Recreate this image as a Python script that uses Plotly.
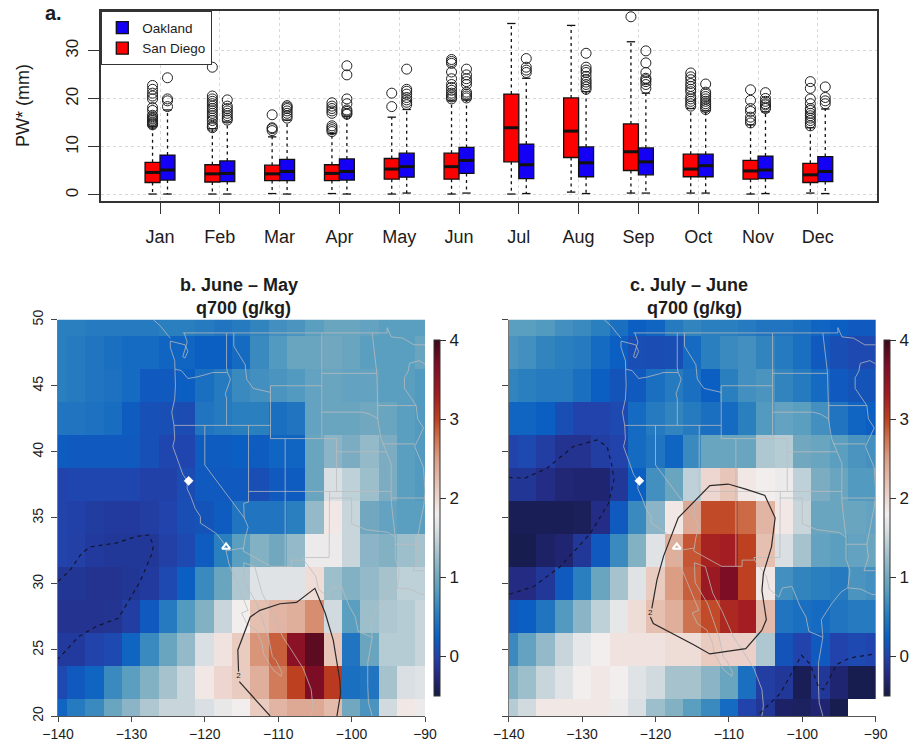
import plotly.graph_objects as go

W, H = 919, 742
def PX(px): return px / W
def PY(py): return 1 - py / H

months = ["Jan","Feb","Mar","Apr","May","Jun","Jul","Aug","Sep","Oct","Nov","Dec"]
month_pos = list(range(1, 13))

sd_q1  = [2.6,2.7,3.0,3.0,3.3,3.3,6.9,7.8,5.1,3.8,3.3,2.6]
sd_med = [4.7,4.4,4.4,4.5,5.4,5.9,14.0,13.3,9.0,5.4,5.0,4.2]
sd_q3  = [6.8,6.3,6.2,6.3,7.6,8.7,21.0,20.2,14.8,8.5,7.2,6.6]
sd_low = [0.2,0.2,0.3,0.3,0.2,0.2,0.2,0.6,0.4,0.4,0.2,0.4]
sd_up  = [14.3,13.8,12.1,12.8,16.2,19.6,35.7,35.3,31.9,18.0,14.6,14.0]
sd_out = [
 [14.6,14.8,15,15.2,15.5,15.8,16,16.3,16.6,17.6,18.2,20,20.6,21.2,22,22.8],
 [14,14.3,14.8,15.5,16,16.5,17,17.5,18,18.5,19,19.5,20,20.6,26.6],
 [13.4,13.8,14,16.7],
 [13.2,13.6,14,14.4,17,17.5,18,18.5,19.2],
 [18.4,21.2],
 [20,20.4,20.8,21.2,21.8,22.4,23,24.2,25.6,27.4,27.8,28.2],
 [],
 [],
 [37.1],
 [18.5,19,19.5,20,20.5,21.5,22,22.6,23.2,24,24.6,25.4],
 [15,15.6,16.2,17.4,18,19.7,21.9],
 [14.4,15,15.5,16,16.5,17,17.6,18,19,20,22.2,23.6],
]
ok_q1  = [3.1,2.8,3.0,3.1,3.7,4.5,3.4,3.8,4.2,3.8,3.4,2.8]
ok_med = [5.2,4.5,4.9,4.9,5.9,7.2,6.3,6.7,6.9,6.1,5.2,4.9]
ok_q3  = [8.3,7.1,7.4,7.5,8.7,9.9,10.6,10.0,9.8,8.5,8.1,8.0]
ok_low = [0.2,0.2,0.2,0.2,0.4,0.4,0.3,0.3,0.4,0.4,0.3,0.3]
ok_up  = [17.7,15.2,15.6,16.4,17.8,19.8,24.3,21.5,21.2,17.5,17.3,17.9]
ok_out = [
 [18.4,19.6,20,24.4],
 [15.6,16,16.5,17,17.5,18,18.5,19.8],
 [16,16.5,17,17.5,18,18.3,18.6],
 [16.8,17,17.4,17.7,19,20,25,26.9],
 [18.8,19.3,19.8,20.3,21,21.6,22,26.2],
 [20.2,20.6,21,21.4,23,23.6,24.2,25,26.2],
 [25.5,26,26.6,28.4],
 [22,22.5,23,23.5,24,24.7,25.5,26,26.6,29.5],
 [22.2,23,23.6,24,24.3,25.5,27.5,30],
 [17.8,18.2,18.6,19,19.5,20,20.5,21,21.4,23.1],
 [18,18.3,18.75,19,19.5,20.1,21.3],
 [19,19.6,20.3,22.5],
]

lons = [-140 + 2.5*i for i in range(21)]
lats = [20 + 2.5*i for i in range(13)]

# rows from lat 20 upward, columns from -140 eastward
q_june_may = [
 [.30,.50,.65,.95,1.15,1.35,1.5,1.5,1.6,1.72,1.8,2.1,2.3,2.4,2.4,2.25,1.0,.75,1.55,1.85,1.75],
 [.05,.20,.30,.65,.85,1.1,1.3,1.5,1.85,2.0,2.1,2.35,2.7,3.0,3.7,3.05,.40,.45,1.3,1.6,1.65],
 [-.08,-.08,.0,.05,.3,.65,.95,1.2,1.6,1.9,2.1,2.55,2.85,3.55,3.85,2.15,.45,.95,1.4,1.4,1.5],
 [-.15,-.15,-.15,-.14,-.05,.2,.5,.8,1.1,1.5,1.8,2.2,2.3,2.35,2.6,1.55,.85,1.25,1.35,1.4,1.5],
 [-.12,-.12,-.15,-.15,-.12,-.08,.05,.25,.65,.95,1.35,1.65,1.65,1.65,1.95,1.25,1.1,1.2,1.3,1.45,1.45],
 [.0,-.03,-.08,-.1,-.1,-.1,-.03,.05,.22,.55,.85,1.1,1.0,1.2,1.75,1.75,1.5,1.15,1.1,1.25,1.3],
 [.0,-.02,-.06,-.08,-.08,-.05,.0,.1,.15,.22,.45,.45,.45,.55,1.2,1.85,1.5,1.0,.9,.85,.85],
 [.0,.03,.03,.03,.03,-.02,-.02,.08,.2,.2,.2,.1,.2,.22,.95,1.6,1.45,1.25,1.05,.85,.8],
 [.22,.2,.2,.2,.2,.12,.03,.02,.22,.22,.25,.22,.3,.3,.95,1.15,1.05,1.2,1.05,.85,.8],
 [.45,.45,.42,.38,.22,.12,.1,.07,.45,.5,.55,.55,.4,.45,.9,.95,.95,1.0,.95,.85,.8],
 [.55,.5,.45,.42,.35,.2,.2,.25,.4,.5,.65,.7,.75,.8,.9,.95,.9,.9,.85,.85,.8],
 [.55,.5,.45,.4,.35,.35,.3,.3,.25,.25,.35,.65,.8,.95,.95,1.0,.95,.85,.85,.85,.95],
 [.55,.55,.5,.5,.5,.5,.55,.55,.5,.45,.5,.6,.7,.75,.85,.95,.95,.9,.85,.85,.85],
]
q_july_june = [
 [1.4,1.55,1.85,1.85,1.85,1.85,1.75,1.6,1.25,1.1,.85,.65,.35,.0,-.12,-.35,-.38,-.3,-.45,None,None],
 [1.1,1.25,1.5,1.65,1.8,1.85,1.8,1.65,1.55,1.3,1.3,1.15,.95,.4,-.05,-.1,-.42,-.1,-.3,-.45,-.45],
 [.65,.9,1.2,1.5,1.7,1.8,1.9,1.9,1.9,1.95,1.95,2.1,2.05,2.05,1.35,.15,.0,.2,.0,.05,.02],
 [.2,.25,.45,.8,1.15,1.45,1.7,1.95,2.2,2.35,2.75,2.95,3.2,3.3,2.25,.45,.4,.35,.45,.5,.5],
 [-.22,-.22,-.1,.2,.55,.95,1.3,1.65,2.1,2.5,2.85,3.4,3.7,3.0,1.85,.7,.6,.55,.5,.75,.7],
 [-.45,-.45,-.35,-.3,-.1,.2,.65,1.1,1.65,2.35,2.9,3.25,3.3,3.0,2.2,1.6,1.3,.9,.85,.9,.95],
 [-.42,-.42,-.42,-.42,-.4,-.2,.2,.65,1.15,1.85,2.4,2.95,2.95,2.8,2.3,1.85,1.5,.95,.95,.95,.9],
 [-.12,-.12,-.2,-.28,-.3,-.3,-.1,.25,.7,.95,1.45,2.0,2.15,1.85,1.8,1.75,1.45,1.05,.95,.8,.8],
 [.0,.05,-.05,-.15,-.15,-.05,.0,.35,.45,.3,.65,.95,.95,.95,1.35,1.4,1.0,.95,.85,.75,.7],
 [.3,.3,.25,.1,.0,.0,.05,.35,.5,.6,.5,.4,.35,.55,.8,.9,.85,.7,.45,.3,.25],
 [.6,.55,.5,.5,.4,.25,.15,.2,.4,.5,.4,.25,.55,.7,.75,.6,.5,.35,.2,.15,.15],
 [.75,.7,.6,.55,.5,.35,.25,.1,.08,.1,.35,.55,.65,.7,.6,.5,.4,.2,.1,.05,.05],
 [.85,.85,.8,.7,.65,.55,.4,.25,.3,.5,.6,.55,.55,.5,.45,.45,.4,.3,.25,.2,.2],
]

zmin, zmax = -0.5, 4.0
cstops = [(-.5,"#151a45"),(-.25,"#23287c"),(0,"#2243ac"),(.25,"#0b5fc2"),(.55,"#2a7fbf"),
          (.85,"#5b9fc0"),(1.0,"#72a8bf"),(1.3,"#a5c2cd"),(1.6,"#d9dfe2"),(1.8,"#f2eeee"),
          (2.0,"#ecd6cf"),(2.5,"#db9e85"),(2.8,"#cc6a45"),(3.0,"#bd4020"),(3.3,"#a31d22"),
          (3.7,"#7d0c25"),(4.0,"#3a0a1a")]
colorscale = [[(v-zmin)/(zmax-zmin), c] for v, c in cstops]

# geographic outlines, lon/lat
coast = [
 [(-127,50),(-126,49.5),(-125.3,49),(-124.7,48.6)],
 [(-124.7,48.38),(-124.7,47.9),(-124.1,46.9),(-124.06,46.2),(-124,45),(-124.1,44),(-124.5,43),(-124.2,42),(-124.1,41),
  (-124.35,40.4),(-123.8,39.5),(-123,38.3),(-122.4,37.8),(-122.4,37.2),(-121.9,36.6),(-121.3,35.7),(-120.6,35.1),
  (-120.6,34.6),(-119.2,34.1),(-118.4,33.8),(-117.3,33),(-117.1,32.5),(-116.7,31.5),(-115.8,30.3),(-114.7,28.9),
  (-114.1,28),(-115,27.8),(-114.3,27),(-113,26.5),(-112.2,25.5),(-112,24.7),(-110.7,23.5),(-109.6,23),(-109.5,23.3),
  (-110.3,24.2),(-110.8,24.5),(-111.3,25.9),(-112.2,27.4),(-112.9,28.5),(-114.6,30.1),(-114.7,31.6),(-113.2,31.3),
  (-112.2,29.3),(-110.9,27.9),(-109.4,26),(-108.2,25),(-106.6,23.6),(-105.5,22),(-105.3,20.8),(-105.5,20)],
 [(-97.2,20),(-97.7,21),(-97.8,22.3),(-97.8,24),(-97.2,25.96),(-97.4,27.3),(-96,28.5),(-94.7,29.4),(-93.8,29.7),(-92,29.6),(-90.5,29.2),(-90,29.2)],
 [(-124.7,48.38),(-123.2,48.15),(-122.7,48.1),(-122.3,47.6),(-122.7,47.1),(-123,47.2),(-122.6,47.9),(-122.4,48.3),(-122.8,49)],
 [(-92.1,46.7),(-90.8,46.9),(-90,46.65)],
 [(-97.2,49),(-95.15,49),(-95.15,49.4),(-94.6,48.7),(-93,48.6),(-91.5,48.1),(-90,48.1)],
 [(-123,49),(-97.2,49)],
]
states = [
 [(-117.1,32.5),(-114.72,32.72),(-114.8,32.5),(-111,31.33),(-108.2,31.33),(-108.2,31.8),(-106.5,31.8),(-104.9,30.6),
  (-104.5,29.6),(-103.2,29),(-102.7,29.7),(-101.4,29.8),(-100.3,28.3),(-99.5,27.5),(-99.1,26.4),(-97.2,25.96)],
 [(-124.06,46.25),(-123.2,46.15),(-122.3,45.55),(-121.2,45.65),(-119.3,45.93),(-118.98,46),(-116.92,46)],
 [(-117.03,49),(-117.04,46.4),(-116.92,46),(-116.5,45.5),(-117.2,44.4),(-117.03,44),(-117.03,42)],
 [(-124.2,42),(-111.05,42)],
 [(-120,42),(-120,39),(-114.63,35),(-114.1,34.3),(-114.5,33.5),(-114.72,32.72)],
 [(-114.04,42),(-114.04,37),(-114.05,36.2),(-114.7,36.1),(-114.63,35)],
 [(-114.04,37),(-94.62,37)],
 [(-111.05,45),(-111.05,41),(-109.05,41),(-109.05,31.33)],
 [(-109.05,41),(-102.05,41),(-102.05,37)],
 [(-111.05,45),(-104.05,45)],
 [(-104.05,41),(-104.05,49)],
 [(-116.05,49),(-116.05,48),(-114.5,46.6),(-114.3,45.5),(-113.4,44.8),(-111.05,44.5)],
 [(-103,37),(-103.06,32),(-106.6,32),(-106.5,31.8)],
 [(-103,36.5),(-100,36.5),(-100,34.56),(-98,34.1),(-95,33.9),(-94.05,33.55),(-94.05,31.9),(-93.5,31),(-93.8,29.7)],
 [(-104.05,45.94),(-96.56,45.94)],
 [(-97.2,49),(-96.56,45.94),(-96.45,43.5),(-96.45,42.5),(-96,41),(-95.3,40),(-94.6,39.1),(-94.62,36.5),(-94.45,35.4),(-94.05,33.55)],
 [(-104.05,43),(-98.5,43),(-97.5,42.85),(-96.45,42.5)],
 [(-102.05,40),(-95.3,40)],
 [(-95.8,40.6),(-91.4,40.6)],
 [(-96.45,43.5),(-91.2,43.5)],
 [(-92.1,46.7),(-92.3,46.1),(-92.8,45.6),(-92.8,44.8),(-91.2,43.5),(-91,42.5),(-90.2,41.8),(-91.1,40.7),(-91.4,40.4),(-90.2,38.8),(-90,37),(-90.15,36),(-90.6,34.7),(-91.2,33),(-91,32),(-91.6,31)],
 [(-94.62,36.5),(-90.15,36.5)],
 [(-94.05,33),(-91.2,33)],
 [(-91.6,31),(-90,31)],
]

b_c2_lon = [-111.1,-115.3,None,-115.4,-115.5,-113.8,-112.5,-109.75,-107.5,-105,-103.6,-102.5,-101.6,-101.5,-102]
b_c2_lat = [20,22.6,None,23.36,25,27.5,28,28.5,28.6,29.66,27.8,25.75,22.7,21.7,20]
b_c0_lon = [-140,-138.4,-136.8,-135.6,-132,-129.3,-127.6,-127,-127.2,-128.8,-130.6,-131.8,-134.7,-137.2,-140]
b_c0_lat = [30.2,31,32.3,32.8,33.1,33.6,33.7,32.9,32.3,30.2,28.5,27.4,26.8,26,24.3]
c_c2_lon = [-120.7,-120.3,-114.8,-112.6,-107.7,-105.5,-104.9,-105.5,-105.3,-104.2,-103.7,-105.1,-107.6,-110.1,-112.6,-116.9,-118.9,-119.8,-120.5]
c_c2_lat = [27.5,27,25.4,24.7,25.1,26.5,27.3,29.5,30.8,32.8,35,36.7,37.16,37.56,37.44,35,32.1,30.3,28.15]
c_c0a_lon = [-140,-137.8,-134.8,-131.2,-128,-126.6,-126,-125.65,-126.4,-128.9,-133,-136.6,-140]
c_c0a_lat = [38.07,38,38.75,40.4,40.9,40.4,39.1,37.9,36.1,33.8,31.3,29.8,29.2]
c_c0b_lon = [-105.8,-103,-100.1,-98.9,-97.8,-97.1,-95.3,-93.5,-90.1]
c_c0b_lat = [20.2,21.7,24.6,23.9,22.2,22,23.9,24.4,24.7]

oakland = (-122.2, 37.8)
san_diego = (-117.1, 32.8)
FONT = "Liberation Sans"
INK = "#1c1c1c"

def flatten(segs):
    xs, ys = [], []
    for s in segs:
        xs += [p[0] for p in s] + [None]
        ys += [p[1] for p in s] + [None]
    return xs, ys

fig = go.Figure()

def add_boxes(name, color, off, q1, med, q3, low, up, out):
    pos = [m + off for m in month_pos]
    wx, wy, cx, cy, mx, my, ox, oy = [], [], [], [], [], [], [], []
    for i, p in enumerate(pos):
        wx += [p, p, None, p, p, None]
        wy += [q3[i], up[i], None, q1[i], low[i], None]
        for v in (low[i], up[i]):
            cx += [p-0.07, p+0.07, None]
            cy += [v, v, None]
        mx += [p-0.125, p+0.125, None]
        my += [med[i], med[i], None]
        ox += [p]*len(out[i])
        oy += out[i]
    fig.add_trace(go.Scatter(x=wx, y=wy, mode="lines", showlegend=False, hoverinfo="skip",
                             line=dict(color="#111", width=1.3, dash="3px,3.5px")))
    fig.add_trace(go.Scatter(x=cx, y=cy, mode="lines", showlegend=False, hoverinfo="skip",
                             line=dict(color="#111", width=1.3)))
    fig.add_trace(go.Scatter(x=ox, y=oy, mode="markers", showlegend=False,
                             marker=dict(symbol="circle-open", size=10, color="#222", line=dict(width=1, color="#222"))))
    fig.add_trace(go.Box(name=name, x=pos, q1=q1, median=med, q3=q3, width=0.25, boxpoints=False,
                         fillcolor=color, whiskerwidth=0,
                         line=dict(color="#111", width=1.3), marker=dict(color=color)))
    fig.add_trace(go.Scatter(x=mx, y=my, mode="lines", showlegend=False, hoverinfo="skip",
                             line=dict(color="#111", width=3)))

add_boxes("San Diego", "#ff0000", -0.125, sd_q1, sd_med, sd_q3, sd_low, sd_up, sd_out)
add_boxes("Oakland", "#1400f5", 0.125, ok_q1, ok_med, ok_q3, ok_low, ok_up, ok_out)

def cbar(x_px):
    return dict(x=PX(x_px), xanchor="left", xpad=0, y=PY(696), yanchor="bottom", ypad=0,
                len=(696-340)/H, lenmode="fraction", thickness=5.5, outlinewidth=1, outlinecolor="#333",
                tickmode="array", tickvals=[0,1,2,3,4], ticks="outside", ticklen=6, tickwidth=1, tickcolor="#333",
                tickfont=dict(family=FONT, size=17, color=INK))

def add_map(ax, z, cb_x, contours_solid, contours_dash, label_pos):
    xa, ya = "x"+ax, "y"+ax
    fig.add_trace(go.Heatmap(x=lons, y=lats, z=z, xaxis=xa, yaxis=ya, zmin=zmin, zmax=zmax,
                             colorscale=colorscale, colorbar=cbar(cb_x), xgap=0, ygap=0, zsmooth=False))
    lx, ly = flatten(coast + states)
    fig.add_trace(go.Scatter(x=lx, y=ly, xaxis=xa, yaxis=ya, mode="lines", showlegend=False, hoverinfo="skip",
                             line=dict(color="rgba(188,188,188,0.75)", width=1)))
    for cx, cy in contours_solid:
        fig.add_trace(go.Scatter(x=cx, y=cy, xaxis=xa, yaxis=ya, mode="lines", showlegend=False, hoverinfo="skip",
                                 line=dict(color="#2e2a2a", width=1.2)))
    for cx, cy in contours_dash:
        fig.add_trace(go.Scatter(x=cx, y=cy, xaxis=xa, yaxis=ya, mode="lines", showlegend=False, hoverinfo="skip",
                                 line=dict(color="#15152e", width=1.2, dash="4px,4px")))
    fig.add_trace(go.Scatter(x=[label_pos[0]], y=[label_pos[1]], xaxis=xa, yaxis=ya, mode="text", text=["2"],
                             showlegend=False, hoverinfo="skip", textposition="middle center",
                             textfont=dict(family=FONT, size=8, color="#222")))
    fig.add_trace(go.Scatter(x=[oakland[0]], y=[oakland[1]], xaxis=xa, yaxis=ya, mode="markers", showlegend=False,
                             marker=dict(symbol="diamond", size=7, color="white", line=dict(color="white", width=0.5))))
    fig.add_trace(go.Scatter(x=[san_diego[0]], y=[san_diego[1]], xaxis=xa, yaxis=ya, mode="markers", showlegend=False,
                             marker=dict(symbol="triangle-up-open", size=7, color="white", line=dict(color="white", width=2))))

add_map("2", q_june_may, 434, [(b_c2_lon, b_c2_lat)], [(b_c0_lon, b_c0_lat)], (-115.4, 23))
add_map("3", q_july_june, 884, [(c_c2_lon, c_c2_lat)], [(c_c0a_lon, c_c0a_lat), (c_c0b_lon, c_c0b_lat)], (-120.7, 27.8))

def map_axes(x0, show_y, x_anchor, y_anchor):
    xax = dict(domain=[PX(x0), PX(x0+367)], range=[-140,-90], anchor=y_anchor, showgrid=False, zeroline=False,
               tickmode="array", tickvals=[-140,-130,-120,-110,-100,-90], ticktext=["\u2212140","\u2212130","\u2212120","\u2212110","\u2212100","\u221290"],
               ticks="outside", ticklen=5, tickwidth=1, tickcolor="#444",
               showline=True, linecolor="#555", linewidth=1,
               tickfont=dict(family=FONT, size=14, color=INK), ticklabelstandoff=0)
    yax = dict(domain=[PY(716), PY(319.7)], range=[20,50], anchor=x_anchor, showgrid=False, zeroline=False,
               tickmode="array", tickvals=[20,25,30,35,40,45,50], ticks="outside", ticklen=6, tickwidth=1, tickcolor="#444",
               showline=True, linecolor="#777", linewidth=0.8,
               showticklabels=show_y, tickangle=-90, tickfont=dict(family=FONT, size=14, color=INK), ticklabelstandoff=3)
    return xax, yax

x2, y2 = map_axes(58, True, "x2", "y2")
x3, y3 = map_axes(508.7, False, "x3", "y3")

def title(txt, cx, cy, size=18):
    return dict(text=txt, x=PX(cx), y=PY(cy), xref="paper", yref="paper", showarrow=False, xanchor="center", yanchor="middle",
                font=dict(family=FONT, size=size, color=INK))

fig.update_layout(
    width=W, height=H, margin=dict(l=0, r=0, t=0, b=0, autoexpand=False), paper_bgcolor="white", plot_bgcolor="white",
    boxmode="overlay", font=dict(family=FONT, color=INK),
    xaxis=dict(domain=[PX(101), PX(877)], range=[0.013, 12.99], anchor="y", tickmode="array", tickvals=month_pos, ticktext=months,
               showgrid=True, griddash="dot", gridcolor="#d8d8d8", gridwidth=1, zeroline=False,
               ticks="outside", ticklen=11, tickwidth=1, tickcolor="#333", showline=True, mirror=True, linecolor="#333", linewidth=1.5,
               tickfont=dict(family=FONT, size=18, color=INK), ticklabelstandoff=8),
    yaxis=dict(domain=[PY(201), PY(11)], range=[-1.25, 38.3], anchor="x", tickmode="array", tickvals=[0,10,20,30],
               showgrid=True, griddash="dot", gridcolor="#d8d8d8", gridwidth=1, zeroline=False,
               ticks="outside", ticklen=11, tickwidth=1, tickcolor="#333", showline=True, mirror=True, linecolor="#333", linewidth=1.5,
               tickangle=-90, tickfont=dict(family=FONT, size=17, color=INK), ticklabelstandoff=3),
    xaxis2=x2, yaxis2=y2, xaxis3=x3, yaxis3=y3,
    legend=dict(x=PX(101), xanchor="left", y=PY(11), yanchor="top", traceorder="reversed", bgcolor="white",
                bordercolor="#333", borderwidth=1.3, font=dict(family=FONT, size=13.5, color=INK), tracegroupgap=0),
    showlegend=True,
    annotations=[
        dict(text="PW* (mm)", x=PX(23), y=PY(106), xref="paper", yref="paper", showarrow=False, textangle=-90,
             xanchor="center", yanchor="middle", font=dict(family=FONT, size=18, color=INK)),
        title("<b>a.</b>", 53, 13, 20),
        title("<b>b. June \u2013 May</b>", 239, 285),
        title("<b>q700 (g/kg)</b>", 244, 308),
        title("<b>c. July \u2013 June</b>", 689, 285),
        title("<b>q700 (g/kg)</b>", 694, 308),
    ],
)
fig.write_html("out.html", config={"displayModeBar": False}, post_script="document.body.style.margin='0';")
